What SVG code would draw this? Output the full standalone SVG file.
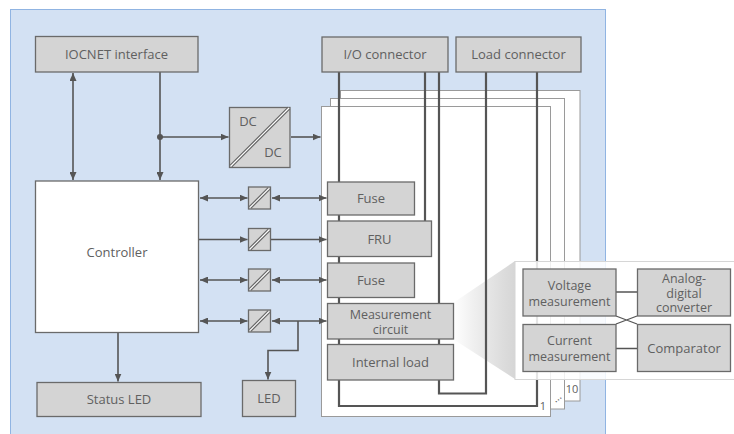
<svg xmlns="http://www.w3.org/2000/svg" width="734" height="434" viewBox="0 0 734 434">
<defs>
<style>
.box{fill:#d4d4d4;stroke:#6a6a6a;stroke-width:1.3}
.wbox{fill:#fff;stroke:#6a6a6a;stroke-width:1.3}
.card{fill:#fff;stroke:#9a9a9a;stroke-width:1}
.t{font-family:"Open Sans","Noto Sans",sans-serif;font-size:13px;fill:#606060;text-anchor:middle}
.m{font-family:"Open Sans","Noto Sans",sans-serif;font-size:12.5px;fill:#606060;text-anchor:middle}
.s{font-family:"Open Sans","Noto Sans",sans-serif;font-size:11px;fill:#606060;text-anchor:middle}
.c{fill:none;stroke:#555;stroke-width:1.6}
.w{fill:none;stroke:#555;stroke-width:2.2}
.thin{fill:none;stroke:#555;stroke-width:1.3}
.dg1{stroke:#666;stroke-width:3.6}
.dg2{stroke:#fff;stroke-width:1.2}
</style>
<marker id="ah" markerUnits="userSpaceOnUse" markerWidth="8" markerHeight="7" refX="8" refY="3.5" orient="auto-start-reverse">
<path d="M0,0 L8,3.5 L0,7 z" fill="#555"/>
</marker>
<linearGradient id="zg" x1="0" y1="0" x2="1" y2="0">
<stop offset="0" stop-color="#ffffff" stop-opacity="0.9"/>
<stop offset="1" stop-color="#c8c8c8" stop-opacity="0.75"/>
</linearGradient>
</defs>

<rect x="10.5" y="9.5" width="595" height="440" fill="#d3e1f3" stroke="#90b4e2" stroke-width="1"/>

<g id="cards">
<rect class="card" x="340.5" y="90.5" width="239.5" height="310.5"/>
<rect class="card" x="330.5" y="98.5" width="234" height="310.5"/>
<rect class="card" x="321.5" y="106.5" width="229" height="310"/>
<text class="s" x="543" y="410">1</text>
<text class="s" x="557" y="401" transform="rotate(-40 557 398)">...</text>
<text class="s" x="572" y="393">10</text>
</g>

<polygon points="453,303 515,261 515,379 453,339" fill="url(#zg)"/>

<g id="connectors">
<path class="w" d="M339,72 V406 H537 V72"/>
<path class="w" d="M439,72 V393.5 H486 V72"/>
<path class="w" d="M425,72 V221"/>
<path class="c" d="M73,73 V180" marker-start="url(#ah)" marker-end="url(#ah)"/>
<path class="c" d="M160,72 V180" marker-end="url(#ah)"/>
<circle cx="160" cy="137" r="3" fill="#555"/>
<path class="c" d="M160,137 H228.5" marker-end="url(#ah)"/>
<path class="c" d="M291,137 H320.5" marker-end="url(#ah)"/>
<path class="c" d="M118,333 V381.5" marker-end="url(#ah)"/>
<path class="c" d="M200,198 H247.5" marker-start="url(#ah)" marker-end="url(#ah)"/>
<path class="c" d="M272,198 H326.5" marker-start="url(#ah)" marker-end="url(#ah)"/>
<path class="c" d="M199,239.5 H247.5" marker-end="url(#ah)"/>
<path class="c" d="M271,239.5 H326.5" marker-end="url(#ah)"/>
<path class="c" d="M200,280 H247.5" marker-start="url(#ah)" marker-end="url(#ah)"/>
<path class="c" d="M272,280 H326.5" marker-start="url(#ah)" marker-end="url(#ah)"/>
<path class="c" d="M200,321 H247.5" marker-start="url(#ah)" marker-end="url(#ah)"/>
<path class="c" d="M272,321 H326.5" marker-start="url(#ah)" marker-end="url(#ah)"/>
<path class="c" d="M298,321 V350.5 H268 V379.5" marker-end="url(#ah)"/>
</g>

<g id="iocnet"><rect class="box" x="35.5" y="36.5" width="162.5" height="35.5"/><text class="t" x="116.5" y="58.5">IOCNET interface</text></g>
<g id="io-connector"><rect class="box" x="322" y="37" width="126" height="35"/><text class="t" x="385" y="59">I/O connector</text></g>
<g id="load-connector"><rect class="box" x="456" y="37" width="125" height="35"/><text class="t" x="518.5" y="59">Load connector</text></g>
<g id="controller"><rect class="wbox" x="35.5" y="181" width="163" height="151.5"/><text class="t" x="117" y="256.5">Controller</text></g>
<g id="status-led"><rect class="box" x="37" y="382.5" width="164" height="34"/><text class="t" x="119" y="404">Status LED</text></g>
<g id="led"><rect class="box" x="242.5" y="380.5" width="53" height="36"/><text class="t" x="269" y="403">LED</text></g>

<g id="dcdc">
<rect class="box" x="229.5" y="107.5" width="60.5" height="60"/>
<line class="dg1" x1="231" y1="166" x2="289" y2="108"/>
<line class="dg2" x1="231" y1="166" x2="289" y2="108"/>
<text class="t" x="248" y="126">DC</text>
<text class="t" x="273" y="157">DC</text>
</g>

<g id="conv1"><rect class="box" x="248.5" y="187" width="22" height="22"/><line class="dg1" x1="250" y1="207.5" x2="269" y2="188.5"/><line class="dg2" x1="250" y1="207.5" x2="269" y2="188.5"/></g>
<g id="conv2"><rect class="box" x="248.5" y="228.5" width="22" height="22"/><line class="dg1" x1="250" y1="249" x2="269" y2="230"/><line class="dg2" x1="250" y1="249" x2="269" y2="230"/></g>
<g id="conv3"><rect class="box" x="248.5" y="269" width="22" height="22"/><line class="dg1" x1="250" y1="289.5" x2="269" y2="270.5"/><line class="dg2" x1="250" y1="289.5" x2="269" y2="270.5"/></g>
<g id="conv4"><rect class="box" x="248.5" y="310" width="22" height="22"/><line class="dg1" x1="250" y1="330.5" x2="269" y2="311.5"/><line class="dg2" x1="250" y1="330.5" x2="269" y2="311.5"/></g>

<g id="fuse1"><rect class="box" x="327.5" y="182" width="87" height="33"/><text class="t" x="371" y="202.5">Fuse</text></g>
<g id="fru"><rect class="box" x="327.5" y="221" width="104" height="35.5"/><text class="t" x="379.5" y="243.5">FRU</text></g>
<g id="fuse2"><rect class="box" x="327.5" y="263" width="87" height="34.5"/><text class="t" x="371" y="284.5">Fuse</text></g>
<g id="measurement"><rect class="box" x="327.5" y="303.5" width="126" height="35.5"/><text class="m" x="390.5" y="319">Measurement</text><text class="m" x="390.5" y="333.5">circuit</text></g>
<g id="internal-load"><rect class="box" x="327.5" y="344.5" width="126" height="35.5"/><text class="t" x="390.5" y="366.5">Internal load</text></g>

<g id="zoom-panel">
<rect x="515" y="261.5" width="230" height="118" fill="#fff" fill-opacity="0.85" stroke="#d6d6d6" stroke-width="1"/>
<path class="thin" d="M616,292 H637 M616,348.5 H637 M616,316 L637,324 M616,324 L637,316"/>
</g>
<g id="voltage"><rect class="box" x="523" y="269" width="93" height="47"/><text class="m" x="569.5" y="289.5">Voltage</text><text class="m" x="569.5" y="305.5">measurement</text></g>
<g id="current"><rect class="box" x="523" y="324.5" width="93" height="47"/><text class="m" x="569.5" y="344.5">Current</text><text class="m" x="569.5" y="360.5">measurement</text></g>
<g id="adc"><rect class="box" x="637.5" y="269" width="93" height="47"/><text class="m" x="684" y="282.5">Analog-</text><text class="m" x="684" y="297.5">digital</text><text class="m" x="684" y="312">converter</text></g>
<g id="comparator"><rect class="box" x="637.5" y="324.5" width="93" height="47"/><text class="t" x="684" y="352.5">Comparator</text></g>
</svg>
